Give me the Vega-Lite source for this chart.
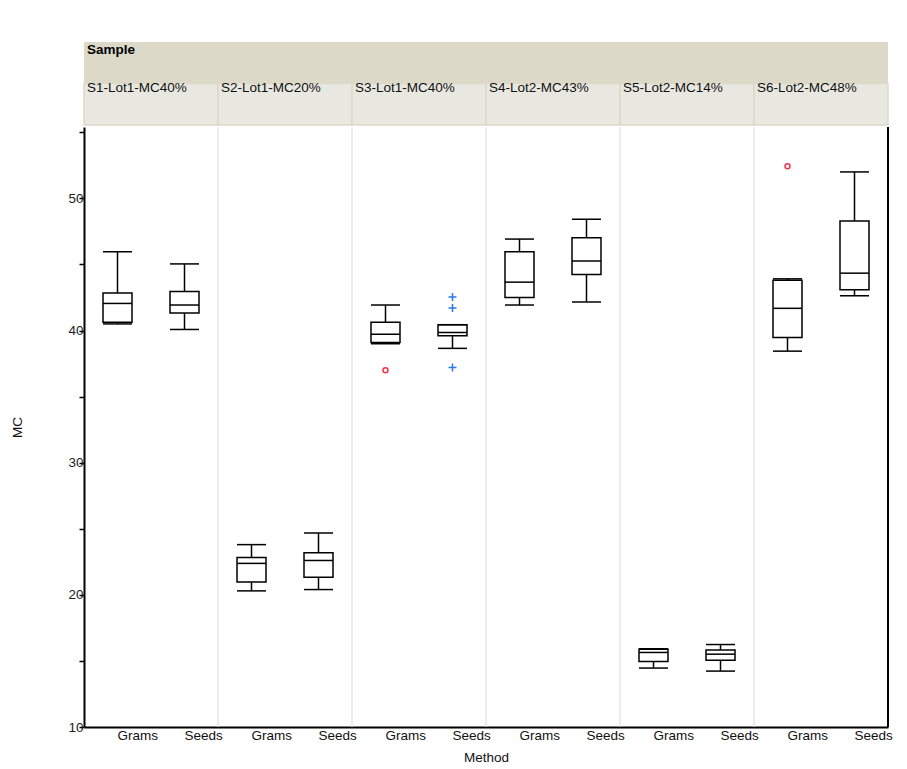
{
  "$schema": "https://vega.github.io/schema/vega-lite/v6.json",
  "background": "white",
  "padding": {"left": 10, "top": 42, "right": 5, "bottom": 5},
  "spacing": 0,
  "config": {
    "view": {"stroke": null},
    "font": "Liberation Sans",
    "text": {"font": "Liberation Sans"}
  },
  "datasets": {
    "samples": [
      {"Sample": "S1-Lot1-MC40%"},
      {"Sample": "S2-Lot1-MC20%"},
      {"Sample": "S3-Lot1-MC40%"},
      {"Sample": "S4-Lot2-MC43%"},
      {"Sample": "S5-Lot2-MC14%"},
      {"Sample": "S6-Lot2-MC48%"}
    ],
    "boxes": [
      {"key": "S1-Lot1-MC40%|Grams", "Sample": "S1-Lot1-MC40%", "Method": "Grams", "lower": 40.5, "q1": 40.62, "median": 42.05, "q3": 42.83, "upper": 45.96},
      {"key": "S1-Lot1-MC40%|Seeds", "Sample": "S1-Lot1-MC40%", "Method": "Seeds", "lower": 40.08, "q1": 41.33, "median": 41.93, "q3": 42.96, "upper": 45.04},
      {"key": "S2-Lot1-MC20%|Grams", "Sample": "S2-Lot1-MC20%", "Method": "Grams", "lower": 20.3, "q1": 20.98, "median": 22.38, "q3": 22.83, "upper": 23.8},
      {"key": "S2-Lot1-MC20%|Seeds", "Sample": "S2-Lot1-MC20%", "Method": "Seeds", "lower": 20.4, "q1": 21.33, "median": 22.6, "q3": 23.18, "upper": 24.68},
      {"key": "S3-Lot1-MC40%|Grams", "Sample": "S3-Lot1-MC40%", "Method": "Grams", "lower": 39.0, "q1": 39.1, "median": 39.72, "q3": 40.62, "upper": 41.93},
      {"key": "S3-Lot1-MC40%|Seeds", "Sample": "S3-Lot1-MC40%", "Method": "Seeds", "lower": 38.65, "q1": 39.6, "median": 39.85, "q3": 40.44, "upper": 40.44},
      {"key": "S4-Lot2-MC43%|Grams", "Sample": "S4-Lot2-MC43%", "Method": "Grams", "lower": 41.93, "q1": 42.5, "median": 43.66, "q3": 45.96, "upper": 46.92},
      {"key": "S4-Lot2-MC43%|Seeds", "Sample": "S4-Lot2-MC43%", "Method": "Seeds", "lower": 42.16, "q1": 44.23, "median": 45.26, "q3": 47.02, "upper": 48.42},
      {"key": "S5-Lot2-MC14%|Grams", "Sample": "S5-Lot2-MC14%", "Method": "Grams", "lower": 14.46, "q1": 14.96, "median": 15.64, "q3": 15.89, "upper": 15.92},
      {"key": "S5-Lot2-MC14%|Seeds", "Sample": "S5-Lot2-MC14%", "Method": "Seeds", "lower": 14.23, "q1": 15.06, "median": 15.51, "q3": 15.82, "upper": 16.24},
      {"key": "S6-Lot2-MC48%|Grams", "Sample": "S6-Lot2-MC48%", "Method": "Grams", "lower": 38.44, "q1": 39.47, "median": 41.68, "q3": 43.81, "upper": 43.91},
      {"key": "S6-Lot2-MC48%|Seeds", "Sample": "S6-Lot2-MC48%", "Method": "Seeds", "lower": 42.63, "q1": 43.08, "median": 44.34, "q3": 48.29, "upper": 52.0}
    ],
    "outliers": [
      {"key": "S3-Lot1-MC40%|Grams", "Method": "Grams", "MC": 37.0},
      {"key": "S3-Lot1-MC40%|Seeds", "Method": "Seeds", "MC": 42.53},
      {"key": "S3-Lot1-MC40%|Seeds", "Method": "Seeds", "MC": 41.7},
      {"key": "S3-Lot1-MC40%|Seeds", "Method": "Seeds", "MC": 37.2},
      {"key": "S6-Lot2-MC48%|Grams", "Method": "Grams", "MC": 52.43}
    ]
  },
  "vconcat": [
    {
      "width": 804,
      "height": 83,
      "data": {"name": "samples"},
      "encoding": {
        "x": {
          "field": "Sample", "type": "nominal",
          "scale": {"domain": ["S1-Lot1-MC40%", "S2-Lot1-MC20%", "S3-Lot1-MC40%", "S4-Lot2-MC43%", "S5-Lot2-MC14%", "S6-Lot2-MC48%"], "paddingInner": 0, "paddingOuter": 0},
          "axis": null
        }
      },
      "layer": [
        {
          "mark": {"type": "rect", "fill": "#dcd9c9", "strokeWidth": 0},
          "encoding": {
            "y": {"datum": 1, "type": "quantitative", "scale": {"domain": [0, 2], "nice": false, "zero": false}, "axis": null},
            "y2": {"datum": 2}
          }
        },
        {
          "mark": {"type": "rect", "fill": "#e8e7e0", "stroke": "#dcd9c9", "strokeWidth": 1.5},
          "encoding": {
            "y": {"datum": 0, "type": "quantitative"},
            "y2": {"datum": 1}
          }
        },
        {
          "transform": [{"filter": "datum.Sample == 'S1-Lot1-MC40%'"}],
          "mark": {"type": "text", "align": "left", "baseline": "top", "dx": 3, "dy": 1, "fontWeight": "bold", "fontSize": 13.5, "color": "black"},
          "encoding": {
            "x": {"field": "Sample", "type": "nominal", "bandPosition": 0},
            "y": {"datum": 2, "type": "quantitative"},
            "text": {"value": "Sample"}
          }
        },
        {
          "mark": {"type": "text", "align": "left", "baseline": "alphabetic", "dx": 3, "dy": 8, "fontSize": 13.5, "color": "#111"},
          "encoding": {
            "x": {"field": "Sample", "type": "nominal", "bandPosition": 0},
            "y": {"datum": 1, "type": "quantitative"},
            "text": {"field": "Sample"}
          }
        }
      ]
    },
    {
      "width": 804,
      "height": 600,
      "encoding": {
        "x": {
          "field": "key", "type": "nominal",
          "scale": {"domain": ["S1-Lot1-MC40%|Grams", "S1-Lot1-MC40%|Seeds", "S2-Lot1-MC20%|Grams", "S2-Lot1-MC20%|Seeds", "S3-Lot1-MC40%|Grams", "S3-Lot1-MC40%|Seeds", "S4-Lot2-MC43%|Grams", "S4-Lot2-MC43%|Seeds", "S5-Lot2-MC14%|Grams", "S5-Lot2-MC14%|Seeds", "S6-Lot2-MC48%|Grams", "S6-Lot2-MC48%|Seeds"], "paddingInner": 0, "paddingOuter": 0},
          "axis": {
            "title": "Method",
            "labelExpr": "split(datum.value, '|')[1]",
            "labelAlign": "left",
            "labelAngle": 0,
            "labelBaseline": "top",
            "ticks": false,
            "labelPadding": 1,
            "domainColor": "black",
            "domainWidth": 2,
            "labelFontSize": 13.5,
            "labelColor": "#111",
            "titleFontSize": 13.5,
            "titleFontWeight": "normal",
            "titleColor": "#111",
            "titlePadding": 9,
            "grid": false
          }
        }
      },
      "layer": [
        {
          "data": {"name": "boxes"},
          "transform": [{"filter": "datum.Method == 'Grams' && datum.Sample != 'S1-Lot1-MC40%'"}],
          "mark": {"type": "rule", "color": "#d9d9d9", "strokeWidth": 1},
          "encoding": {
            "x": {"field": "key", "type": "nominal", "bandPosition": 0}
          }
        },
        {
          "data": {"name": "boxes"},
          "mark": {"type": "rule", "color": "black", "strokeWidth": 1.5},
          "encoding": {
            "y": {
              "field": "lower", "type": "quantitative", "title": "MC",
              "scale": {"domain": [10, 55.4], "nice": false, "zero": false},
              "axis": {
                "values": [10, 15, 20, 25, 30, 35, 40, 45, 50, 55],
                "labelExpr": "datum.value % 10 == 0 ? datum.label : ''",
                "tickSize": 5,
                "tickColor": "black",
                "tickWidth": 1.5,
                "domainColor": "black",
                "domainWidth": 2,
                "labelPadding": -4,
                "labelFontSize": 13.5,
                "labelColor": "#222",
                "grid": false,
                "titleFontSize": 13.5,
                "titleFontWeight": "normal",
                "titleColor": "#111",
                "titleX": -67,
                "titleY": 300,
                "titleBaseline": "middle",
                "titleAlign": "center",
                "titleAngle": -90
              }
            },
            "y2": {"field": "upper"}
          }
        },
        {
          "data": {"name": "boxes"},
          "mark": {"type": "bar", "fill": "white", "stroke": "black", "strokeWidth": 1.5, "width": 29, "opacity": 1},
          "encoding": {
            "y": {"field": "q1", "type": "quantitative", "title": "MC"},
            "y2": {"field": "q3"}
          }
        },
        {
          "data": {"name": "boxes"},
          "mark": {"type": "tick", "color": "black", "thickness": 1.5, "size": 29, "opacity": 1},
          "encoding": {
            "y": {"field": "median", "type": "quantitative", "title": "MC"}
          }
        },
        {
          "data": {"name": "boxes"},
          "mark": {"type": "tick", "color": "black", "thickness": 1.5, "size": 29, "opacity": 1},
          "encoding": {
            "y": {"field": "lower", "type": "quantitative", "title": "MC"}
          }
        },
        {
          "data": {"name": "boxes"},
          "mark": {"type": "tick", "color": "black", "thickness": 1.5, "size": 29, "opacity": 1},
          "encoding": {
            "y": {"field": "upper", "type": "quantitative", "title": "MC"}
          }
        },
        {
          "data": {"name": "outliers"},
          "mark": {"type": "point", "filled": false, "strokeWidth": 1.5, "size": 25, "opacity": 1},
          "encoding": {
            "y": {"field": "MC", "type": "quantitative", "title": "MC"},
            "shape": {"field": "Method", "type": "nominal", "scale": {"domain": ["Grams", "Seeds"], "range": ["circle", "M-1.6,0L1.6,0M0,-1.6L0,1.6"]}, "legend": null},
            "color": {"field": "Method", "type": "nominal", "scale": {"domain": ["Grams", "Seeds"], "range": ["#f0364f", "#2a7ae2"]}, "legend": null}
          }
        },
        {
          "data": {"name": "boxes"},
          "transform": [{"filter": "datum.key == 'S6-Lot2-MC48%|Seeds'"}],
          "mark": {"type": "rule", "color": "black", "strokeWidth": 2},
          "encoding": {
            "x": {"field": "key", "type": "nominal", "bandPosition": 1}
          }
        }
      ]
    }
  ]
}
